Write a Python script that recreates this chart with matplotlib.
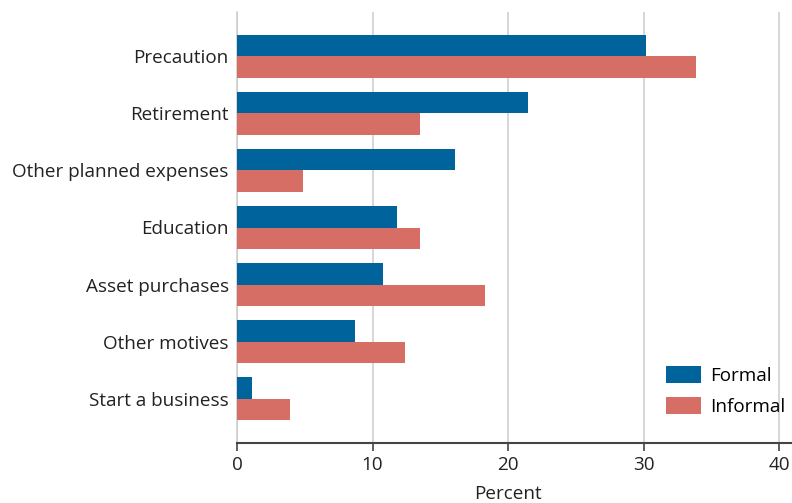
import matplotlib
matplotlib.use("Agg")
import matplotlib.pyplot as plt
import numpy as np

plt.rcParams['font.family'] = ['Open Sans', 'DejaVu Sans']

categories = ["Precaution", "Retirement", "Other planned expenses", "Education",
              "Asset purchases", "Other motives", "Start a business"]
formal = [30.2, 21.5, 16.1, 11.8, 10.8, 8.7, 1.1]
informal = [33.9, 13.5, 4.9, 13.5, 18.3, 12.4, 3.9]
xticks = [0, 10, 20, 30, 40]

blue = "#00639c"
red = "#d66e66"
fs = 13.6

fig = plt.figure(figsize=(7.92, 5.03), dpi=100)
ax = fig.add_axes([237 / 792, 60 / 503, 555 / 792, 431 / 503])

y = np.arange(len(categories))
h = 0.385
ax.barh(y - h / 2, formal, height=h, color=blue, label="Formal", zorder=3)
ax.barh(y + h / 2, informal, height=h, color=red, label="Informal", zorder=3)

ax.set_xlim(0, 40.95)
ax.set_ylim(6.78, -0.78)
ax.set_xticks(xticks)
ax.set_xticklabels([str(t) for t in xticks], fontsize=fs, color="#222222")
ax.set_yticks(y)
ax.set_yticklabels(categories, fontsize=fs, color="#222222")
ax.tick_params(axis='y', length=0, pad=6)
ax.tick_params(axis='x', length=6, width=1.2, color="#444444", pad=3)

ax.grid(axis='x', color="#cccccc", linewidth=1.1, zorder=0)
for s in ["top", "right"]:
    ax.spines[s].set_visible(False)
ax.spines["left"].set_color("#cccccc")
ax.spines["left"].set_linewidth(1.1)
ax.spines["bottom"].set_color("#444444")
ax.spines["bottom"].set_linewidth(1.5)

ax.set_xlabel("Percent", fontsize=fs, color="#222222")
ax.xaxis.set_label_coords(271 / 555, -42 / 431)

leg = ax.legend(loc="upper left", bbox_to_anchor=(657 / 792, 1 - 357 / 503),
                bbox_transform=fig.transFigure, frameon=False, borderpad=0,
                fontsize=fs, handlelength=1.85, handleheight=1.0,
                handletextpad=0.45, labelspacing=0.6)

fig.savefig("out.png", dpi=100)
